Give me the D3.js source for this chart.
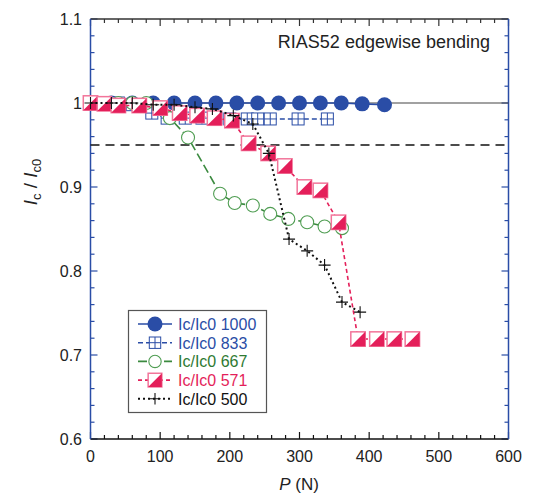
<!doctype html>
<html lang="en">
<head>
<meta charset="utf-8">
<title>RIAS52 edgewise bending</title>
<script src="https://cdn.jsdelivr.net/npm/d3@7"></script>
<style>
  body { margin: 0; background: #fff; }
  svg { display: block; font-family: "Liberation Sans", Arial, sans-serif; }
  .tick-label { font-size: 16px; fill: #222; }
</style>
</head>
<body>
<svg id="chart" width="535" height="496"></svg>
<script>
// values: P (N) and Ic/Ic0 for each series
var p1000 = [0, 30, 60, 90, 120, 150, 180, 210, 240, 270, 300, 330, 360, 390, 422];
var ic1000 = [1, 1, 1, 1, 1, 1, 1, 1, 1, 1, 1, 1, 1, 0.999, 0.998];

var p833 = [0, 20, 40, 60, 88, 110, 136, 160, 180, 200, 225, 240, 258, 298, 340];
var ic833 = [1, 1, 1, 0.998, 0.988, 0.982, 0.982, 0.982, 0.982, 0.981, 0.981, 0.981, 0.981, 0.981, 0.981];

var p667 = [0, 20, 40, 60, 80, 100, 114, 140, 186, 207, 233, 258, 284, 311, 336, 361];
var ic667 = [1, 1, 1, 1, 1, 0.995, 0.982, 0.959, 0.892, 0.881, 0.878, 0.868, 0.862, 0.858, 0.853, 0.851];

var p571 = [0, 20, 40, 70, 100, 128, 153, 178, 203, 227, 255, 279, 307, 330, 356, 384, 411, 436, 462];
var ic571 = [1, 0.999, 0.997, 0.997, 0.994, 0.988, 0.985, 0.982, 0.979, 0.952, 0.940, 0.925, 0.900, 0.896, 0.858, 0.719, 0.719, 0.719, 0.719];

var p500 = [0, 30, 60, 90, 120, 150, 175, 205, 233, 256, 285, 311, 336, 361, 387];
var ic500 = [1, 1, 1, 0.998, 0.998, 0.995, 0.993, 0.985, 0.975, 0.940, 0.838, 0.824, 0.807, 0.763, 0.751];

var seriesNames = ["Ic/Ic0 1000", "Ic/Ic0 833", "Ic/Ic0 667", "Ic/Ic0 571", "Ic/Ic0 500"];
var xTicks = [0, 100, 200, 300, 400, 500, 600];
var yTicks = [0.6, 0.7, 0.8, 0.9, 1, 1.1];
var refLevels = [1.0, 0.95];
var titleText = "RIAS52 edgewise bending";

var blue = "#2a4da6", green = "#3b8a3f", red = "#e41f5a", pinkEdge = "#f2759a";

var series = [
  { name: seriesNames[0], p: p1000, ic: ic1000, color: blue, text: blue, dash: null, marker: "dot" },
  { name: seriesNames[1], p: p833, ic: ic833, color: blue, text: blue, dash: "5,3", marker: "grid" },
  { name: seriesNames[2], p: p667, ic: ic667, color: green, text: "#2f7a33", dash: "9,4", marker: "ring" },
  { name: seriesNames[3], p: p571, ic: ic571, color: red, text: red, dash: "4,3", marker: "half" },
  { name: seriesNames[4], p: p500, ic: ic500, color: "#111", text: "#111", dash: "2,3", marker: "plus" }
];

var svg = d3.select("#chart");
var plotL = 90.5, plotR = 508.5, plotT = 19, plotB = 439;

var x = d3.scaleLinear().domain([0, 600]).range([plotL, plotR]);
var y = d3.scaleLinear().domain([0.6, 1.1]).range([plotB, plotT]);

// minor/major ticks, drawn inward
function tickSet(step, lo, hi) {
  var out = [];
  for (var v = lo; v <= hi + 1e-9; v += step) out.push(+v.toFixed(4));
  return out;
}
var xMinor = tickSet(20, 0, 600), yMinor = tickSet(0.02, 0.6, 1.1);

var axes = svg.append("g");
xMinor.forEach(function(v) {
  var len = (Math.abs(v % 100) < 1e-6) ? 7 : 4;
  axes.append("line").attr("x1", x(v)).attr("x2", x(v)).attr("y1", plotB).attr("y2", plotB - len)
    .attr("stroke", "#111").attr("stroke-width", 1.2);
  axes.append("line").attr("x1", x(v)).attr("x2", x(v)).attr("y1", plotT).attr("y2", plotT + len)
    .attr("stroke", "#333").attr("stroke-width", 1.2);
});
yMinor.forEach(function(v) {
  var major = Math.abs(Math.round(v * 10) - v * 10) < 1e-6;
  var len = major ? 7 : 4;
  axes.append("line").attr("x1", plotL).attr("x2", plotL + len).attr("y1", y(v)).attr("y2", y(v))
    .attr("stroke", blue).attr("stroke-width", 1.2);
  axes.append("line").attr("x1", plotR).attr("x2", plotR - len).attr("y1", y(v)).attr("y2", y(v))
    .attr("stroke", blue).attr("stroke-width", 1.2);
});

// frame: left/right blue, top/bottom dark
axes.append("line").attr("x1", plotL).attr("x2", plotR).attr("y1", plotT).attr("y2", plotT).attr("stroke", "#333").attr("stroke-width", 1.5);
axes.append("line").attr("x1", plotL).attr("x2", plotR).attr("y1", plotB).attr("y2", plotB).attr("stroke", "#111").attr("stroke-width", 1.5);
axes.append("line").attr("x1", plotL).attr("x2", plotL).attr("y1", plotT).attr("y2", plotB).attr("stroke", blue).attr("stroke-width", 1.5);
axes.append("line").attr("x1", plotR).attr("x2", plotR).attr("y1", plotT).attr("y2", plotB).attr("stroke", blue).attr("stroke-width", 1.5);

// tick labels
svg.append("g").selectAll("text").data(xTicks).enter().append("text")
  .attr("class", "tick-label").attr("x", function(d) { return x(d); }).attr("y", 462)
  .attr("text-anchor", "middle").text(function(d) { return d; });
svg.append("g").selectAll("text").data(yTicks).enter().append("text")
  .attr("class", "tick-label").attr("x", 82).attr("y", function(d) { return y(d) + 6; })
  .attr("text-anchor", "end").text(function(d) { return d3.format("~g")(d); });

// axis titles
var xl = svg.append("text").attr("x", 299).attr("y", 490).attr("text-anchor", "middle")
  .attr("font-size", 17).attr("fill", "#222");
xl.append("tspan").attr("font-style", "italic").text("P");
xl.append("tspan").text(" (N)");

var yl = svg.append("text").attr("transform", "translate(37,182) rotate(-90)")
  .attr("text-anchor", "middle").attr("font-size", 19).attr("fill", "#222");
yl.append("tspan").attr("font-style", "italic").text("I");
yl.append("tspan").attr("font-size", 13).attr("dy", 4).text("c");
yl.append("tspan").attr("dy", -4).text(" / ");
yl.append("tspan").attr("font-style", "italic").text("I");
yl.append("tspan").attr("font-size", 13).attr("dy", 4).text("c0");

// reference lines
svg.append("line").attr("x1", plotL).attr("x2", plotR).attr("y1", y(refLevels[0])).attr("y2", y(refLevels[0]))
  .attr("stroke", "#444").attr("stroke-width", 1.2);
svg.append("line").attr("x1", plotL).attr("x2", plotR).attr("y1", y(refLevels[1])).attr("y2", y(refLevels[1]))
  .attr("stroke", "#111").attr("stroke-width", 1.5).attr("stroke-dasharray", "9,6");

svg.append("text").attr("x", 490).attr("y", 48).attr("text-anchor", "end")
  .attr("font-size", 18).attr("fill", "#222").text(titleText);

// markers
function drawMarker(g, kind, cx, cy, s) {
  if (kind === "dot") {
    g.append("circle").attr("cx", cx).attr("cy", cy).attr("r", 7.5 * s).attr("fill", blue);
  } else if (kind === "grid") {
    var h = 6 * s;
    g.append("rect").attr("x", cx - h).attr("y", cy - h).attr("width", 2 * h).attr("height", 2 * h)
      .attr("fill", "#fff").attr("stroke", blue).attr("stroke-width", 1);
    g.append("path").attr("d", "M" + (cx - h) + "," + cy + "H" + (cx + h) + "M" + cx + "," + (cy - h) + "V" + (cy + h))
      .attr("stroke", blue).attr("stroke-width", 1);
  } else if (kind === "ring") {
    g.append("circle").attr("cx", cx).attr("cy", cy).attr("r", 6.5 * s).attr("fill", "#fff")
      .attr("stroke", "#4f9d52").attr("stroke-width", 1.1);
  } else if (kind === "half") {
    var k = 7.2 * s;
    g.append("rect").attr("x", cx - k).attr("y", cy - k).attr("width", 2 * k).attr("height", 2 * k)
      .attr("fill", "#fff").attr("stroke", pinkEdge).attr("stroke-width", 1.5);
    g.append("path").attr("d", "M" + (cx - k) + "," + (cy + k) + "L" + (cx + k) + "," + (cy - k) + "L" + (cx + k) + "," + (cy + k) + "Z")
      .attr("fill", red);
  } else if (kind === "plus") {
    var a = 6 * s;
    g.append("path").attr("d", "M" + (cx - a) + "," + cy + "H" + (cx + a) + "M" + cx + "," + (cy - a) + "V" + (cy + a))
      .attr("stroke", "#111").attr("stroke-width", 1.1);
  }
}

var line = d3.line().x(function(d) { return x(d[0]); }).y(function(d) { return y(d[1]); });

series.forEach(function(s) {
  var pts = d3.zip(s.p, s.ic);
  var g = svg.append("g");
  g.append("path").datum(pts).attr("d", line).attr("fill", "none")
    .attr("stroke", s.color).attr("stroke-width", s.marker === "plus" ? 2 : 1.6)
    .attr("stroke-dasharray", s.dash);
  pts.forEach(function(d) { drawMarker(g, s.marker, x(d[0]), y(d[1]), 1); });
});

// legend
var lg = svg.append("g");
lg.append("rect").attr("x", 128.5).attr("y", 310.5).attr("width", 138).attr("height", 102)
  .attr("fill", "#fff").attr("stroke", "#555").attr("stroke-width", 1.2);
series.forEach(function(s, i) {
  var ly = 324 + i * 18.7;
  lg.append("line").attr("x1", 138).attr("x2", 172).attr("y1", ly).attr("y2", ly)
    .attr("stroke", s.color).attr("stroke-width", s.marker === "plus" ? 2 : 1.6).attr("stroke-dasharray", s.dash);
  drawMarker(lg, s.marker, 155, ly, i === 0 ? 1 : 0.95);
  lg.append("text").attr("x", 178).attr("y", ly + 6).attr("font-size", 16).attr("fill", s.text).text(s.name);
});
</script>
</body>
</html>
